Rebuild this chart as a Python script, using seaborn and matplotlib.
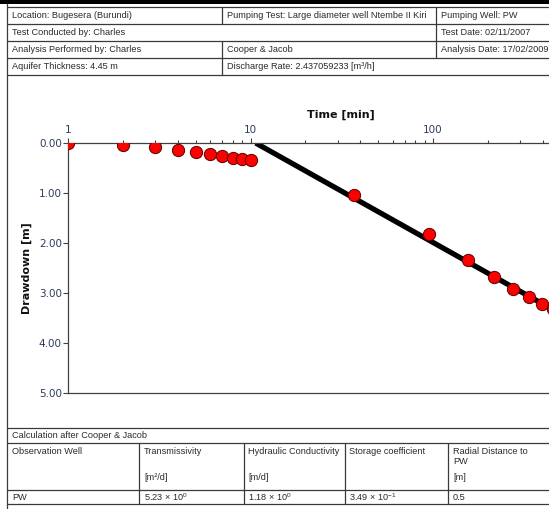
import numpy as np
import pandas as pd
import matplotlib
matplotlib.use("Agg")
import matplotlib.pyplot as plt
from matplotlib.lines import Line2D
from matplotlib.patches import Rectangle
from matplotlib.ticker import FixedLocator, FixedFormatter, NullFormatter
import seaborn as sns

# ---- observed drawdown in the pumping well ----
time_min = [1, 2, 3, 4, 5, 6, 7, 8, 9, 10, 37, 95, 155, 215, 275, 335, 395, 455]
drawdown_m = [0.00, 0.03, 0.08, 0.14, 0.18, 0.21, 0.25, 0.29, 0.32, 0.34,
              1.04, 1.82, 2.34, 2.68, 2.92, 3.08, 3.22, 3.32]

# ---- test parameters and Cooper & Jacob results ----
aquifer_thickness = 4.45          # m
discharge_m3h = 2.437059233       # m3/h
transmissivity = 5.23             # m2/d
storage_coeff = 0.349
radial_distance = 0.5             # m

x_ticks = [1, 10, 100]
x_tick_labels = ["1", "10", "100"]
y_ticks = [0, 1, 2, 3, 4, 5]

# straight-line fit implied by T and S
q_m3d = discharge_m3h * 24.0
slope = 2.3 * q_m3d / (4.0 * np.pi * transmissivity)                 # m per log cycle
t0_min = radial_distance ** 2 * storage_coeff / (2.25 * transmissivity) * 1440.0
fit = pd.DataFrame({"time": [t0_min, 1000.0]})
fit["drawdown"] = slope * np.log10(fit["time"] / t0_min)
obs = pd.DataFrame({"time": time_min, "drawdown": drawdown_m})

W, H = 549, 509
sns.set_theme(style="ticks")
plt.rcParams["font.family"] = ["DejaVu Sans"]
plt.rcParams["mathtext.default"] = "regular"

fig = plt.figure(figsize=(W / 100, H / 100), dpi=100)
fig.patch.set_facecolor("white")

# page layer in pixel coordinates
page = fig.add_axes([0, 0, 1, 1])
page.set_xlim(0, W)
page.set_ylim(H, 0)
page.axis("off")

LC = "#3a3a3a"
TC = "#2a2a2a"
tf = dict(family="Liberation Sans", fontsize=6.6, color=TC, va="center", ha="left")


def hline(y, x0=6.5, x1=W):
    page.add_line(Line2D([x0, x1], [y, y], color=LC, lw=0.9))


def vline(x, y0, y1):
    page.add_line(Line2D([x, x], [y0, y1], color=LC, lw=0.9))


page.add_patch(Rectangle((0, 0), W, 4, color="black", lw=0))
vline(6.5, 4, H)

# header table
rows = [7, 24, 41, 58, 75]
for y in rows:
    hline(y)
vline(222, 7, 24); vline(436, 7, 24)
vline(436, 24, 41)
vline(222, 41, 58); vline(436, 41, 58)
vline(222, 58, 75)
page.text(12, 15.5, "Location: Bugesera (Burundi)", **tf)
page.text(227, 15.5, "Pumping Test: Large diameter well Ntembe II Kiri", **tf)
page.text(441, 15.5, "Pumping Well: PW", **tf)
page.text(12, 32.5, "Test Conducted by: Charles", **tf)
page.text(441, 32.5, "Test Date: 02/11/2007", **tf)
page.text(12, 49.5, "Analysis Performed by: Charles", **tf)
page.text(227, 49.5, "Cooper & Jacob", **tf)
page.text(441, 49.5, "Analysis Date: 17/02/2009", **tf)
page.text(12, 66.5, f"Aquifer Thickness: {aquifer_thickness:.2f} m", **tf)
page.text(227, 66.5, f"Discharge Rate: {discharge_m3h:.9f} [m³/h]", **tf)

# results table
for y in [428, 443, 490, 504]:
    hline(y)
for x in [139, 243.5, 344.5, 448]:
    vline(x, 443, 504)


def sci(v):
    e = int(np.floor(np.log10(abs(v))))
    return f"{v / 10 ** e:.2f} × 10$^{{{e}}}$"


page.text(12, 435.5, "Calculation after Cooper & Jacob", **tf)
page.text(12, 452, "Observation Well", **tf)
page.text(144, 452, "Transmissivity", **tf)
page.text(144, 478, "[m²/d]", **tf)
page.text(248, 452, "Hydraulic Conductivity", **tf)
page.text(248, 478, "[m/d]", **tf)
page.text(349, 452, "Storage coefficient", **tf)
page.text(453, 452, "Radial Distance to", **tf)
page.text(453, 462, "PW", **tf)
page.text(453, 478, "[m]", **tf)
page.text(12, 497, "PW", **tf)
page.text(144, 497, sci(transmissivity), **tf)
page.text(248, 497, sci(transmissivity / aquifer_thickness), **tf)
page.text(349, 497, sci(storage_coeff), **tf)
page.text(453, 497, f"{radial_distance:g}", **tf)

# ---- drawdown plot ----
left_px, top_px, bottom_px = 68, 143, 393
decade_px = 182.5
ax = fig.add_axes([left_px / W, (H - bottom_px) / H,
                   3 * decade_px / W, (bottom_px - top_px) / H])
ax.set_facecolor("white")
ax.set_xscale("log")
ax.set_xlim(1, 1000)
ax.set_ylim(5, 0)

sns.lineplot(data=fit, x="time", y="drawdown", ax=ax, color="black",
             linewidth=3.8, solid_capstyle="butt", zorder=2)
sns.scatterplot(data=obs, x="time", y="drawdown", ax=ax, s=78,
                color="#ff0000", edgecolor="#5a0000", linewidth=0.7, zorder=3)

AC = "#404040"
LBL = "#2e3b5e"
for side in ["left", "top", "bottom"]:
    ax.spines[side].set_visible(True)
    ax.spines[side].set_color(AC)
    ax.spines[side].set_linewidth(0.9)
ax.spines["right"].set_visible(False)

ax.xaxis.set_major_locator(FixedLocator(x_ticks))
ax.xaxis.set_major_formatter(FixedFormatter(x_tick_labels))
minor = [m * 10 ** d for d in range(3) for m in range(2, 10)]
ax.xaxis.set_minor_locator(FixedLocator(minor))
ax.xaxis.set_minor_formatter(NullFormatter())
ax.tick_params(axis="x", which="both", top=True, bottom=False,
               labeltop=True, labelbottom=False, direction="out",
               color=AC, width=0.8)
ax.tick_params(axis="x", which="major", length=3.8, pad=2, labelsize=7.5,
               labelcolor=LBL)
ax.tick_params(axis="x", which="minor", length=2.3)

ax.set_yticks(y_ticks)
ax.set_yticklabels([f"{v:.2f}" for v in y_ticks])
ax.tick_params(axis="y", which="major", left=True, right=False, length=3.6,
               width=0.8, pad=0.8, labelsize=7.5, labelcolor=LBL, color=AC)

ax.set_xlabel("Time [min]", fontsize=8, fontweight="bold", color="#111111")
ax.xaxis.set_label_position("top")
ax.xaxis.set_label_coords((341 - left_px) / (3 * decade_px),
                          (bottom_px - 115) / (bottom_px - top_px))
ax.xaxis.label.set_va("center")
ax.set_ylabel("Drawdown [m]", fontsize=8, fontweight="bold", color="#111111")
ax.yaxis.set_label_coords((27 - left_px) / (3 * decade_px), 0.5)
ax.yaxis.label.set_va("center")
ax.grid(False)
if ax.get_legend() is not None:
    ax.get_legend().remove()

fig.savefig("out.png", dpi=100, facecolor="white")
